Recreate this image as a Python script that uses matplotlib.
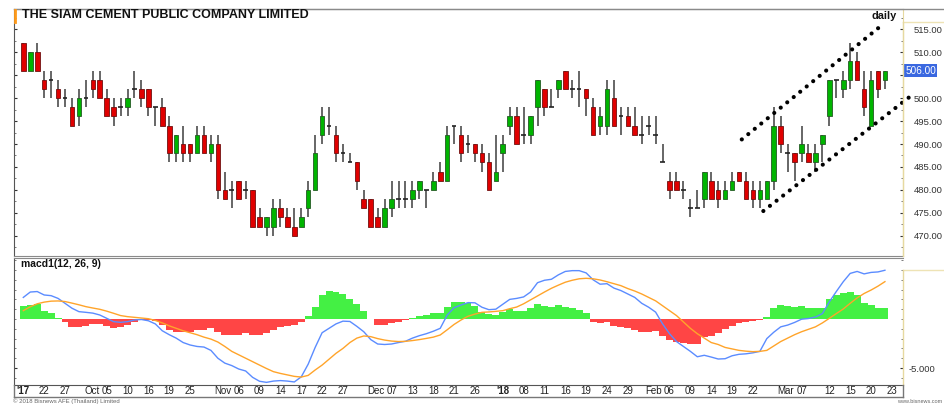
import numpy as np
import matplotlib.pyplot as plt
from matplotlib.ticker import MultipleLocator
from matplotlib.lines import Line2D

plt.rcParams['font.family'] = ['Liberation Sans', 'DejaVu Sans']

# daily candles, SCC, Sep 2017 - Mar 2018
opens = [512, 506, 510, 504, 504, 502, 500, 498, 496, 500,
         504, 504, 500, 498, 498, 498, 502, 502, 502, 498,
         498, 494, 488, 490, 490, 488, 492, 488, 490, 480,
         480, 482, 480, 480, 474, 472, 472, 476, 474, 472,
         472, 476, 480, 492, 494, 492, 488, 486, 486, 478,
         478, 474, 472, 476, 478, 478, 478, 480, 480, 480,
         484, 482, 494, 492, 490, 490, 488, 486, 482, 488,
         494, 496, 492, 492, 498, 502, 498, 502, 506, 502,
         502, 502, 498, 494, 494, 500, 496, 496, 494, 492,
         494, 492, 486, 482, 482, 480, 476, 476, 478, 482,
         480, 478, 480, 484, 482, 480, 478, 478, 482, 494,
         488, 488, 488, 488, 486, 490, 496, 504, 502, 504,
         508, 502, 494, 506, 504]
highs = [512, 510, 512, 506, 506, 504, 502, 500, 502, 504,
         506, 506, 502, 500, 500, 502, 506, 504, 502, 498,
         500, 496, 492, 494, 490, 494, 494, 492, 492, 484,
         482, 482, 482, 480, 476, 474, 478, 478, 476, 476,
         476, 482, 492, 498, 498, 494, 490, 488, 486, 480,
         478, 476, 478, 482, 482, 482, 482, 482, 480, 484,
         486, 494, 494, 494, 492, 490, 490, 488, 492, 492,
         498, 498, 498, 496, 504, 502, 502, 504, 506, 504,
         506, 502, 500, 498, 504, 504, 498, 498, 498, 496,
         496, 496, 490, 484, 484, 482, 478, 480, 484, 484,
         482, 482, 484, 484, 484, 482, 482, 482, 498, 496,
         490, 488, 494, 490, 490, 492, 504, 504, 506, 512,
         510, 506, 506, 506, 506]
lows = [506, 506, 506, 500, 500, 498, 498, 494, 494, 498,
        500, 500, 496, 494, 496, 496, 500, 498, 496, 494,
        494, 486, 486, 486, 486, 488, 488, 486, 478, 478,
        476, 478, 478, 472, 472, 470, 470, 472, 472, 470,
        472, 474, 480, 490, 492, 486, 486, 486, 480, 476,
        472, 472, 472, 474, 476, 476, 476, 478, 476, 480,
        482, 482, 490, 486, 488, 486, 484, 480, 482, 484,
        492, 490, 490, 490, 494, 496, 498, 500, 502, 500,
        498, 496, 492, 492, 492, 494, 492, 494, 492, 490,
        492, 490, 486, 478, 480, 478, 474, 476, 476, 478,
        476, 478, 480, 482, 478, 476, 476, 478, 480, 488,
        484, 482, 486, 486, 484, 486, 494, 500, 500, 502,
        504, 496, 494, 500, 502]
closes = [506, 510, 506, 502, 504, 500, 500, 494, 500, 500,
          502, 500, 496, 496, 498, 500, 502, 500, 498, 498,
          494, 488, 492, 488, 488, 492, 488, 490, 480, 478,
          480, 478, 480, 472, 472, 474, 476, 474, 472, 470,
          474, 480, 488, 496, 494, 488, 488, 486, 482, 476,
          472, 472, 476, 478, 478, 478, 480, 482, 480, 482,
          482, 492, 494, 488, 490, 488, 486, 480, 484, 490,
          496, 490, 492, 496, 504, 498, 498, 504, 502, 502,
          502, 500, 492, 496, 502, 494, 496, 494, 492, 492,
          494, 492, 486, 480, 480, 480, 476, 476, 484, 478,
          478, 480, 482, 482, 478, 478, 480, 482, 494, 490,
          488, 486, 490, 486, 488, 492, 504, 504, 504, 508,
          504, 498, 504, 502, 506]

# MACD(12, 26, 9) panel values
macd_line = [2.2, 2.75, 2.8, 2.45, 2.38, 2.1, 1.6, 1.1, 0.75, 0.68,
             0.6, 0.41, 0.07, -0.27, -0.34, -0.27, -0.1, -0.05, -0.18, -0.5,
             -1.2, -1.6, -1.95, -2.4, -2.65, -2.8, -2.86, -3.2, -4.0, -4.5,
             -4.75, -5.1, -5.3, -5.95, -6.35, -6.46, -6.33, -6.28, -6.33, -6.42,
             -5.9, -4.6, -2.9, -1.4, -0.95, -0.5, -0.22, -0.25, -0.75, -1.3,
             -2.1, -2.55, -2.6, -2.55, -2.4, -2.27, -1.95, -1.7, -1.5, -1.25,
             -0.95, 0.4, 1.15, 1.43, 1.67, 1.65, 1.2, 0.95, 1.0, 1.5,
             2.0, 2.1, 2.25, 2.75, 3.7, 3.95, 4.05, 4.5, 4.85, 4.93,
             4.93, 4.7, 4.0, 3.55, 3.6, 3.15, 2.9, 2.55, 2.2, 1.6,
             1.2, 0.7, -0.5, -1.5, -2.3, -2.8, -3.3, -3.85, -3.7, -3.88,
             -4.08, -4.05, -3.75, -3.6, -3.55, -3.45, -3.3, -2.0, -1.35, -0.8,
             -0.62, -0.35, -0.02, 0.05, 0.2, 0.55, 1.75, 2.8, 3.8, 4.65,
             4.85, 4.6, 4.75, 4.8, 4.97]
signal_line = [0.85, 1.25, 1.55, 1.72, 1.82, 1.84, 1.78, 1.62, 1.45, 1.26,
               1.12, 0.99, 0.8, 0.58, 0.35, 0.24, 0.17, 0.1, 0.03, -0.15,
               -0.4, -0.7, -0.95, -1.2, -1.4, -1.6, -1.85, -2.05, -2.35, -2.8,
               -3.3, -3.65, -4.0, -4.35, -4.7, -5.05, -5.37, -5.55, -5.7, -5.85,
               -5.92, -5.75, -5.2, -4.7, -4.1, -3.5, -3.0, -2.4, -1.95, -1.73,
               -1.8, -2.0, -2.15, -2.25, -2.3, -2.28, -2.2, -2.1, -1.98, -1.85,
               -1.63, -1.1, -0.55, -0.1, 0.28, 0.5, 0.68, 0.72, 0.78, 0.85,
               1.05, 1.22, 1.55, 1.95, 2.35, 2.75, 3.13, 3.45, 3.75, 3.95,
               4.1, 4.15, 4.1, 3.98, 3.8, 3.6, 3.4, 3.1, 2.85, 2.55,
               2.2, 1.85, 1.35, 0.85, 0.35, -0.3, -0.95, -1.5, -1.95, -2.4,
               -2.6, -2.9, -3.05, -3.2, -3.28, -3.33, -3.3, -3.2, -2.75, -2.3,
               -1.95, -1.6, -1.3, -1.05, -0.8, -0.4, 0.07, 0.55, 1.02, 1.6,
               2.15, 2.6, 2.95, 3.35, 3.81]
macd_hist = [1.36, 1.43, 1.5, 0.82, 0.58, 0.14, -0.27, -0.78, -0.78, -0.68,
             -0.54, -0.54, -0.68, -0.88, -0.78, -0.61, -0.27, -0.14, -0.1, -0.2,
             -0.61, -1.12, -1.29, -1.29, -1.36, -1.12, -1.12, -0.88, -1.36, -1.63,
             -1.63, -1.63, -1.46, -1.63, -1.63, -1.46, -1.12, -0.78, -0.68, -0.61,
             -0.27, 0.31, 1.26, 2.45, 2.86, 2.72, 2.52, 2.04, 1.5, 0.82,
             -0.05, -0.61, -0.61, -0.44, -0.27, -0.14, 0.14, 0.34, 0.41, 0.58,
             0.65, 1.26, 1.77, 1.7, 1.6, 1.3, 0.75, 0.48, 0.41, 0.75,
             1.02, 0.82, 0.82, 1.09, 1.5, 1.36, 1.26, 1.43, 1.26, 1.09,
             0.92, 0.58, -0.27, -0.44, -0.27, -0.68, -0.78, -0.95, -1.12, -1.29,
             -1.29, -1.22, -1.7, -2.14, -2.38, -2.48, -2.59, -2.59, -1.8, -1.7,
             -1.46, -1.02, -0.68, -0.44, -0.27, -0.2, -0.07, 0.24, 1.09, 1.43,
             1.36, 1.26, 1.36, 1.09, 1.09, 1.16, 2.04, 2.45, 2.62, 2.72,
             2.45, 1.6, 1.43, 1.16, 1.09]

# date axis
tick_idx = [0, 3, 6, 12, 15, 18, 21, 24, 31, 34, 37, 40, 43, 46, 53, 56, 59, 62,
            65, 69, 72, 75, 78, 81, 84, 87, 93, 96, 99, 102, 105, 112, 116, 119,
            122, 125]
tick_labels = ["'17", "22", "27", "Oct 05", "10", "16", "19", "25", "Nov 06", "09",
               "14", "17", "22", "27", "Dec 07", "13", "18", "21", "26", "'18",
               "08", "11", "16", "19", "24", "29", "Feb 06", "09", "14", "19",
               "22", "Mar 07", "12", "15", "20", "23"]
price_ticks = [470, 475, 480, 485, 490, 495, 500, 505, 510, 515]

W, H = 944, 407
fig = plt.figure(figsize=(W / 100, H / 100), dpi=100)
fig.patch.set_facecolor('white')

def box(x0, y0, x1, y1):
    return [x0 / W, 1 - y1 / H, (x1 - x0) / W, (y1 - y0) / H]

ax = fig.add_axes(box(14, 9.3, 903, 256))
ax2 = fig.add_axes(box(14, 258, 903, 385), sharex=ax)

o = np.array(opens)
h = np.array(highs)
l = np.array(lows)
c = np.array(closes)
x = np.arange(len(c))
up = c > o
down = c < o
flat = c == o

# candles
ax.vlines(x, l, h, color='#5a5a5a', lw=1.3, zorder=1)
ax.bar(x[up], (c - o)[up], bottom=o[up], width=0.66,
       color='#00b400', edgecolor='#255a25', lw=0.6, zorder=2)
ax.bar(x[down], (o - c)[down], bottom=c[down], width=0.66,
       color='#e00000', edgecolor='#701010', lw=0.6, zorder=2)
ax.hlines(c[flat], x[flat] - 0.33, x[flat] + 0.33, color='#222222', lw=1.2, zorder=2)

# trend channel (hand drawn on the original)
dots = dict(color='black', lw=3.0, linestyle=(0, (0.01, 2.0)),
            dash_capstyle='round', clip_on=False, zorder=3)
ax.plot([103.4, 123.8], [491.0, 516.2], **dots)
ax.plot([106.5, 127.5], [475.4, 500.2], **dots)

ax.set_xlim(-1.34, 126.6)
ax.set_ylim(465.6, 519.35)
ax.yaxis.tick_right()
ax.set_yticks(price_ticks)
# the 505 label sits under the last-price box
ax.set_yticklabels(['' if p == 505 else f'{p:.2f}' for p in price_ticks])
ax.yaxis.set_minor_locator(MultipleLocator(2.5))
ax.tick_params(axis='y', which='major', right=True, left=True, direction='in',
               length=2, labelsize=6.8, pad=8, colors='#333333', labelcolor='#333333')
ax.tick_params(axis='y', which='minor', left=True, right=True, direction='in',
               length=1.5, colors='#666666')
ax.tick_params(axis='x', bottom=False, labelbottom=False)
for s in ['top', 'bottom']:
    ax.spines[s].set_color('#8a8a8a')
ax.spines['left'].set_color('#555555')
ax.spines['right'].set_color('#e6d9a0')

# last price marker
ax.annotate('506.00', xy=(1, closes[-1]), xycoords=('axes fraction', 'data'),
            xytext=(1.5, 0), textcoords='offset points', ha='left', va='center',
            fontsize=7.2, color='white', annotation_clip=False,
            bbox=dict(boxstyle='square,pad=0.12', fc='#3a68e0', ec='none'))

# MACD panel
hist = np.array(macd_hist)
ax2.bar(x, hist, width=1.0, color=np.where(hist >= 0, '#44f044', '#ff4545'), lw=0, zorder=1)
ax2.plot(x, macd_line, color='#5b8cff', lw=1.0, zorder=2)
ax2.plot(x, signal_line, color='#ffa42a', lw=1.0, zorder=2)
ax2.set_ylim(-6.73, 6.22)
ax2.yaxis.tick_right()
ax2.set_yticks([-5])
ax2.set_yticklabels(['-5.000'])
ax2.yaxis.set_minor_locator(MultipleLocator(1))
ax2.tick_params(axis='y', which='major', right=True, left=True, direction='in',
                length=2, labelsize=6.8, pad=4, colors='#333333')
ax2.tick_params(axis='y', which='minor', left=True, right=True, direction='in',
                length=1.5, colors='#666666')
ax2.tick_params(axis='x', bottom=False, labelbottom=False)
ax2.spines['top'].set_color('#8a8a8a')
ax2.spines['bottom'].set_color('#555555')
ax2.spines['left'].set_color('#555555')
ax2.spines['right'].set_visible(False)

for i, lab in zip(tick_idx, tick_labels):
    bold = lab.startswith("'")
    if ' ' in lab:
        mon, day = lab.split(' ')
        ax2.annotate(day, xy=(i, 0), xycoords=('data', 'axes fraction'),
                     xytext=(0, -4.3), textcoords='offset points', ha='center',
                     va='center', fontsize=7, color='#222222', annotation_clip=False)
        ax2.annotate(mon, xy=(i, 0), xycoords=('data', 'axes fraction'),
                     xytext=(-5.3, -4.3), textcoords='offset points', ha='right',
                     va='center', fontsize=7, color='#222222', annotation_clip=False)
    else:
        ax2.annotate(lab, xy=(i, 0), xycoords=('data', 'axes fraction'),
                     xytext=(0, -4.3), textcoords='offset points', ha='center',
                     va='center', fontsize=7, color='#222222',
                     fontweight='bold' if bold else 'normal', annotation_clip=False)

# frame lines around the panels
def fline(xs, ys, color, lw=1.0):
    fig.add_artist(Line2D([v / W for v in xs], [1 - v / H for v in ys],
                          color=color, lw=lw))

fline([14, 944], [9.3, 9.3], '#8a8a8a')
fline([903, 944], [22, 22], '#eee3b5')
fline([903, 903], [22, 256], '#e6d9a0')
fline([903, 944], [270, 270], '#eee3b5')
fline([903, 903], [270, 385], '#e6d9a0')
fline([14, 903], [397, 397], '#777777')
fline([903, 903], [385, 397], '#777777')
fline([14, 14], [385, 397], '#777777')
fline([14.5, 14.5], [10, 22], '#ff9a1a', lw=2)

fig.text(22 / W, 1 - 15.5 / H, 'THE SIAM CEMENT PUBLIC COMPANY LIMITED',
         fontsize=9.0, fontweight='bold', va='center', ha='left', color='#111111')
fig.text(872 / W, 1 - 16 / H, 'daily', fontsize=7.8, fontweight='bold',
         va='center', ha='left', color='#111111')
fig.text(21 / W, 1 - 264 / H, 'macd1(12, 26, 9)', fontsize=7.5, fontweight='bold',
         va='center', ha='left', color='#111111')
fig.text(13 / W, 1 - 401.5 / H, '\u00a9 2018 Bisnews AFE (Thailand) Limited',
         fontsize=4.3, va='center', ha='left', color='#666666')
fig.text(942 / W, 1 - 401.5 / H, 'www.bisnews.com', fontsize=4.0,
         va='center', ha='right', color='#666666')

fig.savefig('out.png', dpi=100)
